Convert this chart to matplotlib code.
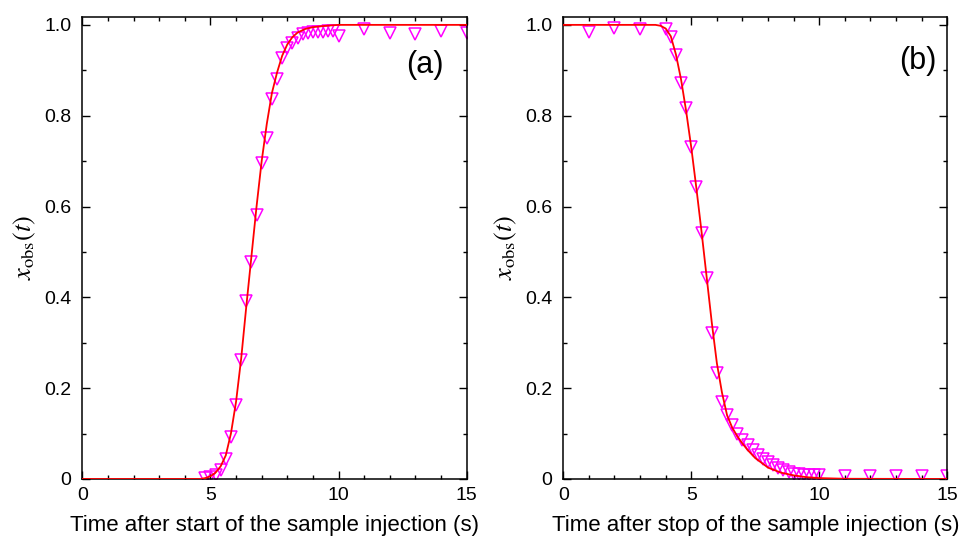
import numpy as np
import matplotlib
matplotlib.use("Agg")
import matplotlib.pyplot as plt
from matplotlib.ticker import MultipleLocator, FuncFormatter

# ========================================
# DATA
# ========================================

# (a) start of injection: measured points
t_a = [4.8, 5.0, 5.2, 5.4, 5.6, 5.8, 6.0, 6.2, 6.4, 6.6, 6.8, 7.0, 7.2, 7.4,
       7.6, 7.8, 8.0, 8.2, 8.4, 8.6, 8.8, 9.0, 9.2, 9.4, 9.6, 9.8, 10.0,
       11.0, 12.0, 13.0, 14.0, 15.0]
x_a = [0.003, 0.004, 0.008, 0.020, 0.043, 0.093, 0.163, 0.261, 0.391, 0.478,
       0.581, 0.695, 0.751, 0.837, 0.881, 0.926, 0.949, 0.961, 0.972, 0.979,
       0.983, 0.984, 0.985, 0.985, 0.986, 0.986, 0.976,
       0.991, 0.983, 0.980, 0.987, 0.983]

# (a) fitted curve
fit_t_a = [0.0, 4.6, 4.8, 5.0, 5.2, 5.4, 5.6, 5.8, 6.0, 6.2, 6.4, 6.6, 6.8,
           7.0, 7.2, 7.4, 7.6, 7.8, 8.0, 8.2, 8.4, 8.7, 9.0, 9.5, 10.0, 15.0]
fit_x_a = [0.0, 0.0, 0.002, 0.006, 0.014, 0.028, 0.052, 0.100, 0.170, 0.265,
           0.380, 0.490, 0.600, 0.700, 0.782, 0.850, 0.895, 0.932, 0.957,
           0.973, 0.983, 0.991, 0.995, 0.998, 1.0, 1.0]

# (b) stop of injection: measured points
t_b = [1.0, 2.0, 3.0, 4.0, 4.2, 4.4, 4.6, 4.8, 5.0, 5.2, 5.4, 5.6, 5.8, 6.0,
       6.2, 6.4, 6.6, 6.8, 7.0, 7.2, 7.4, 7.6, 7.8, 8.0, 8.2, 8.4, 8.6, 8.8,
       9.0, 9.2, 9.4, 9.6, 9.8, 10.0, 11.0, 12.0, 13.0, 14.0, 15.0]
x_b = [0.985, 0.993, 0.991, 0.991, 0.973, 0.934, 0.871, 0.816, 0.732, 0.644,
       0.541, 0.442, 0.321, 0.234, 0.170, 0.140, 0.118, 0.100, 0.086, 0.074,
       0.063, 0.053, 0.045, 0.037, 0.030, 0.024, 0.019, 0.015, 0.012, 0.010,
       0.009, 0.008, 0.008, 0.008, 0.006, 0.006, 0.006, 0.006, 0.006]

# (b) fitted curve
fit_t_b = [0.0, 3.6, 3.8, 4.0, 4.2, 4.4, 4.6, 4.8, 5.0, 5.2, 5.4, 5.6, 5.8,
           6.0, 6.2, 6.4, 6.6, 6.8, 7.0, 7.2, 7.5, 8.0, 8.5, 9.0, 9.5, 10.0,
           11.0, 15.0]
fit_x_b = [1.0, 1.0, 0.998, 0.992, 0.975, 0.935, 0.880, 0.810, 0.730, 0.640,
           0.545, 0.445, 0.345, 0.255, 0.190, 0.140, 0.113, 0.094, 0.078,
           0.064, 0.046, 0.025, 0.014, 0.008, 0.004, 0.002, 0.0005, 0.0]

xlabels = ["Time after start of the sample injection (s)",
           "Time after stop of the sample injection (s)"]
panel_tags = ["(a)", "(b)"]

# ========================================
# PLOT
# ========================================

plt.rcParams['font.family'] = ['Liberation Sans', 'DejaVu Sans']
plt.rcParams['mathtext.fontset'] = 'stix'

fig = plt.figure(figsize=(9.67, 5.44), dpi=100)
ax_a = fig.add_axes([0.0851, 0.1195, 0.3975, 0.8498])
ax_b = fig.add_axes([0.5825, 0.1195, 0.3971, 0.8498])

def ylab(v, pos):
    return "0" if abs(v) < 1e-9 else "%.1f" % v

def xlab(v, pos):
    return "%d" % v

panels = [
    (ax_a, t_a, x_a, fit_t_a, fit_x_a, (0.89, 0.895)),
    (ax_b, t_b, x_b, fit_t_b, fit_x_b, (0.923, 0.905)),
]

for i, (ax, t, x, ft, fx, tagpos) in enumerate(panels):
    ax.plot(t, x, linestyle='none', marker='v', markersize=8.5,
            markerfacecolor='none', markeredgecolor='#FF00FF',
            markeredgewidth=1.1, zorder=2)
    ax.plot(ft, fx, color='#FF0000', linewidth=1.3, zorder=3)

    ax.set_xlim(0, 15)
    ax.set_ylim(0, 1.018)
    ax.xaxis.set_major_locator(MultipleLocator(5))
    ax.xaxis.set_minor_locator(MultipleLocator(1))
    ax.yaxis.set_major_locator(MultipleLocator(0.2))
    ax.yaxis.set_minor_locator(MultipleLocator(0.1))
    ax.xaxis.set_major_formatter(FuncFormatter(xlab))
    ax.yaxis.set_major_formatter(FuncFormatter(ylab))
    ax.tick_params(which='both', direction='in', top=True, right=True,
                   labelsize=14, width=1.0)
    ax.tick_params(axis='x', pad=6)
    ax.tick_params(axis='y', pad=8)
    ax.tick_params(which='major', length=5.5)
    ax.tick_params(which='minor', length=3)
    for s in ax.spines.values():
        s.set_linewidth(1.1)

    ax.set_xlabel(xlabels[i], fontsize=16, labelpad=8)
    ax.set_ylabel(r'$x_{\rm obs}(t)$', fontsize=19, labelpad=4)
    ax.text(tagpos[0], tagpos[1], panel_tags[i], transform=ax.transAxes,
            fontsize=22, ha='center', va='center')

fig.savefig("out.png", dpi=100)
